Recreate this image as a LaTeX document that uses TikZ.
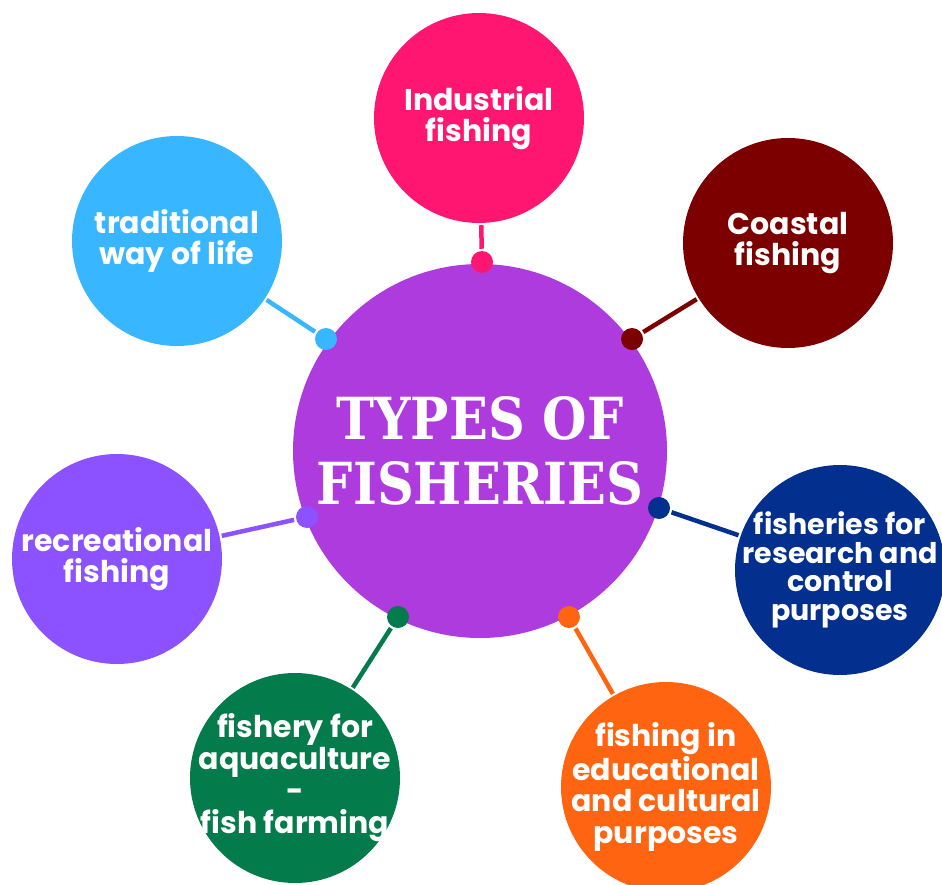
\documentclass[tikz,border=0pt]{standalone}
\usepackage{fontspec}
\usepackage{xcolor}
\usepackage{tikz}
\newfontfamily\leaffont{Poppins}
\newfontfamily\hubfont{DejaVu Serif}[FakeStretch=0.88]
\definecolor{hubpurple}{HTML}{AE3BDE}
\definecolor{indpink}{HTML}{FF1670}
\definecolor{coastred}{HTML}{7D0000}
\definecolor{tradblue}{HTML}{38B6FF}
\definecolor{recviolet}{HTML}{8C52FF}
\definecolor{resnavy}{HTML}{032F8E}
\definecolor{aquagreen}{HTML}{047B4B}
\definecolor{eduorange}{HTML}{FF6410}

\begin{document}
\begin{tikzpicture}[x=1pt, y=-1pt, line width=4.5pt,
		hub/.style={circle, fill=hubpurple, minimum size=374pt, inner sep=0pt,
			text=white, align=center, font=\hubfont\bfseries\fontsize{58}{65}\selectfont},
		leaf/.style={circle, minimum size=210pt, inner sep=-40pt, text=white,
			align=center, font=\leaffont\bfseries\fontsize{30}{31.5}\selectfont},
		knob/.style={circle, minimum size=22pt, inner sep=0pt}]
		\useasboundingbox (0,0) rectangle (942,885);
		\node[hub] (hub) at (480,451) {TYPES OF\\FISHERIES};

		\node[leaf, fill=indpink] (industrial) at (479,118) {Industrial\\fishing};
		\node[leaf, fill=coastred] (coastal) at (788,243) {Coastal\\fishing};
		\node[leaf, fill=tradblue] (traditional) at (177,241) {traditional\\way of life};
		\node[leaf, fill=recviolet] (recreational) at (117,559) {recreational\\fishing};
		\node[leaf, fill=resnavy, font=\leaffont\bfseries\fontsize{28.5}{28.5}\selectfont]
			(research) at (840,570) {fisheries for\\research and\\control\\purposes};
		\node[leaf, fill=eduorange] (educational) at (666,787) {fishing in\\educational\\and cultural\\purposes};
		\node[leaf, fill=aquagreen, font=\leaffont\bfseries\fontsize{30}{32}\selectfont]
			(aquaculture) at (295,778) {fishery for\\aquaculture\\-\\fish farming};

		\node[knob, fill=indpink] (industrialknob) at (482,262) {};
		\node[knob, fill=coastred] (coastalknob) at (632,339) {};
		\node[knob, fill=tradblue] (traditionalknob) at (326,339) {};
		\node[knob, fill=recviolet] (recreationalknob) at (307,517) {};
		\node[knob, fill=resnavy] (researchknob) at (659,508) {};
		\node[knob, fill=eduorange] (educationalknob) at (569,617) {};
		\node[knob, fill=aquagreen] (aquacultureknob) at (398,617) {};

		\draw[indpink] (industrialknob) -- (industrial);
		\draw[coastred] (coastalknob) -- (coastal);
		\draw[tradblue] (traditionalknob) -- (traditional);
		\draw[recviolet] (recreationalknob) -- (recreational);
		\draw[resnavy] (researchknob) -- (research);
		\draw[eduorange] (educationalknob) -- (educational);
		\draw[aquagreen] (aquacultureknob) -- (aquaculture);
	\end{tikzpicture}
\end{document}
